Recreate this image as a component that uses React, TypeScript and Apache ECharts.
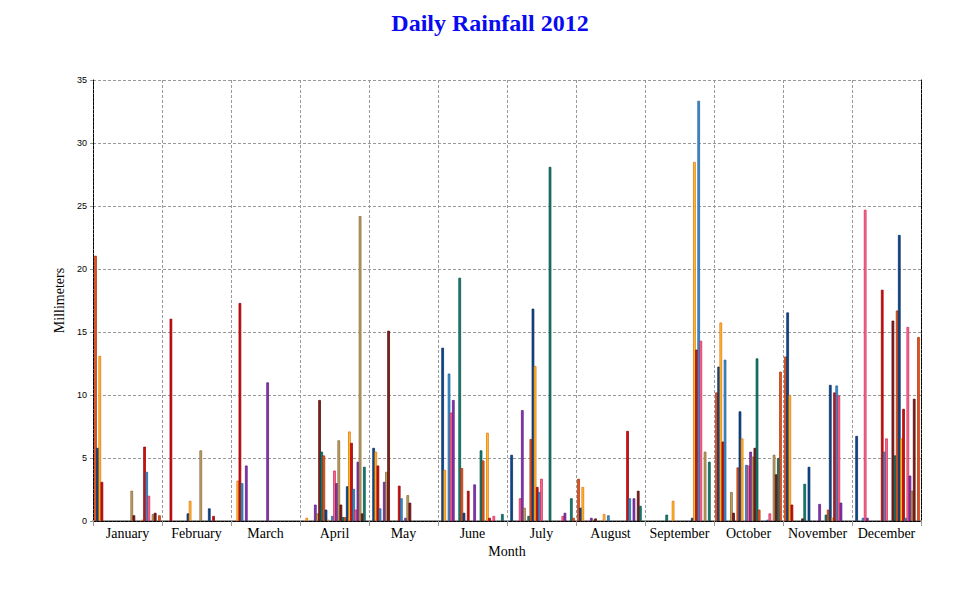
import React, { useEffect, useRef } from "react";
import * as echarts from "echarts";

const monthLabels = ["January","February","March","April","May","June","July","August","September","October","November","December"];
const yTicks = { min: 0, max: 35, interval: 5 };

// Daily rainfall (mm), day 1..31 of each month
const jan = [21.05,5.8,13.1,3.1,0,0,0,0,0,0, 0,0,0,0,0,0,0,2.4,0.45,0, 0,0,0.1,5.9,3.9,2.0,0,0.55,0.65,0, 0.45];
const feb = [0,0,0,16.05,0,0,0,0,0,0, 0,0.6,1.6,0,0,0,0,5.6,0,0, 0,1.0,0,0.4,0,0,0,0,0,0, 0];
const mar = [0,0,3.2,17.3,3.0,0,4.4,0,0,0, 0,0,0,0,0,0,11.0,0,0,0, 0,0,0,0,0,0,0,0,0,0, 0];
const apr = [0,0,0.25,0,0,0,1.3,0.6,9.6,5.5, 5.2,0.9,0.1,0,0.4,4.0,3.0,6.4,1.3,0.3, 0.3,2.75,7.1,6.2,2.55,0.9,4.7,24.2,0.6,4.3, 0];
const may = [0,5.8,5.5,4.4,1.0,0,3.1,3.9,15.1,0, 0,0,0,2.8,1.8,0,0.25,2.05,1.45,0, 0,0,0,0,0,0,0,0,0,0, 0];
const jun = [0,13.75,4.05,0,11.7,8.6,9.6,0,0,19.3, 4.2,0.65,0,2.4,0,0,2.9,0,0,5.6, 4.8,0,7.0,0.25,0,0.4,0,0,0,0.55, 0];
const jul = [0,5.25,0,0,0,1.8,8.8,1.05,0,0.4, 6.5,16.85,12.3,2.7,2.3,3.35,0,0,0,28.1, 0,0,0,0,0,0.4,0.65,0,0,1.8, 0.25];
const aug = [3.35,1.05,2.7,0,0,0,0.25,0.1,0.2,0, 0,0,0.55,0,0.45,0,0,0,0,0, 0,0,0,7.15,1.8,0,1.8,0,2.4,1.2, 0];
const sep = [0,0,0,0,0,0,0,0,0,0.5, 0,0,1.6,0,0,0,0,0,0,0, 0,0.25,28.5,13.6,33.35,14.3,0,5.5,0,4.7, 0];
const oct = [10.2,12.25,15.75,6.3,12.8,0,0,2.3,0.65,0, 4.25,8.7,6.55,0,4.45,4.4,5.5,5.1,5.8,12.9, 0.9,0,0,0,0.1,0.6,0,5.25,3.7,5.0, 11.85];
const nov = [13.05,16.55,10.0,1.3,0,0,0,0,0.2,2.95, 0,4.3,0,0,0,0,1.35,0,0,0.5, 0.9,10.8,0.25,10.2,10.75,9.95,1.45,0,0,0, 0];
const dec = [0,6.75,0,0,0.25,24.7,0.25,0,0,0, 0,0,0,18.35,5.5,6.55,0,0,15.9,5.2, 16.7,22.7,6.55,8.9,0.25,15.4,3.6,2.4,9.7,0, 14.6];

const months = [jan, feb, mar, apr, may, jun, jul, aug, sep, oct, nov, dec];

// palette cycles by day of month
const palette = [
  { fill: "#EE5020", border: "#A83000" },
  { fill: "#0B4A90", border: "#00275A" },
  { fill: "#FFC820", border: "#E0650F" },
  { fill: "#DD0A0A", border: "#8A0000" },
  { fill: "#3D8FCC", border: "#1B5E96" },
  { fill: "#FF6F8F", border: "#CC2050" },
  { fill: "#8A35B5", border: "#55157A" },
  { fill: "#C4A464", border: "#7E5E2E" },
  { fill: "#8A1E1E", border: "#480000" },
  { fill: "#0E8478", border: "#04463F" },
];

export default function App() {
  const ref = useRef<HTMLDivElement>(null);
  useEffect(() => {
    if (!ref.current) return;
    const chart = echarts.init(ref.current, null, { renderer: "svg" });
    const series: any[] = [];
    for (let d = 0; d < 31; d++) {
      const c = palette[d % palette.length];
      series.push({
        type: "bar",
        name: "Day " + (d + 1),
        data: months.map((m) => (m[d] ? m[d] : null)),
        barWidth: 2.6,
        barGap: "-18%",
        itemStyle: { color: c.fill, borderColor: c.border, borderWidth: 0.7 },
        silent: true,
        xAxisIndex: 0,
        yAxisIndex: 0,
      });
    }
    const gridDash = { color: "#999", type: [3, 2] as any, width: 1 };
    chart.setOption({
      animation: false,
      backgroundColor: "#fff",
      title: {
        text: "Daily Rainfall 2012",
        left: "center",
        top: 6,
        textStyle: { fontFamily: "Liberation Serif", fontSize: 24, fontWeight: "bold", color: "#0A0AF0" },
      },
      grid: { left: 93, top: 80, width: 828, height: 441, containLabel: false },
      xAxis: [
        {
          type: "category",
          data: monthLabels,
          boundaryGap: true,
          name: "Month",
          nameLocation: "middle",
          nameGap: 23,
          nameTextStyle: { fontFamily: "Liberation Serif", fontSize: 14, color: "#000", verticalAlign: "top" },
          axisLine: { lineStyle: { color: "#999", width: 2 } },
          axisTick: { show: true, length: 5, lineStyle: { color: "#999" } },
          axisLabel: { fontFamily: "Liberation Serif", fontSize: 14, color: "#000", margin: 5, interval: 0 },
          splitLine: { show: true, lineStyle: gridDash },
        },
        {
          type: "category",
          data: monthLabels,
          position: "top",
          axisLine: { lineStyle: { color: "#000", type: [3, 1] as any, width: 1 } },
          axisTick: { show: false },
          axisLabel: { show: false },
          splitLine: { show: false },
        },
      ],
      yAxis: [
        {
          type: "value",
          min: yTicks.min,
          max: yTicks.max,
          interval: yTicks.interval,
          name: "Millimeters",
          nameLocation: "middle",
          nameGap: 21,
          nameRotate: 90,
          nameTextStyle: { fontFamily: "Liberation Serif", fontSize: 14, color: "#000" },
          axisLine: { show: true, lineStyle: { color: "#000", type: [3, 1] as any, width: 1 } },
          axisTick: { show: true, length: 5, lineStyle: { color: "#999", type: [3, 2] as any } },
          axisLabel: { fontFamily: "Liberation Sans", fontSize: 9, color: "#000", margin: 6 },
          splitLine: { show: true, lineStyle: gridDash },
        },
        {
          type: "value",
          min: yTicks.min,
          max: yTicks.max,
          interval: yTicks.interval,
          position: "right",
          axisLine: { show: true, lineStyle: { color: "#000", type: [3, 1] as any, width: 1 } },
          axisTick: { show: false },
          axisLabel: { show: false },
          splitLine: { show: false },
        },
      ],
      series,
    });
    return () => chart.dispose();
  }, []);
  return (
    <div
      ref={ref}
      style={{ position: "fixed", left: 0, top: 0, width: 980, height: 600, background: "#fff" }}
    />
  );
}
